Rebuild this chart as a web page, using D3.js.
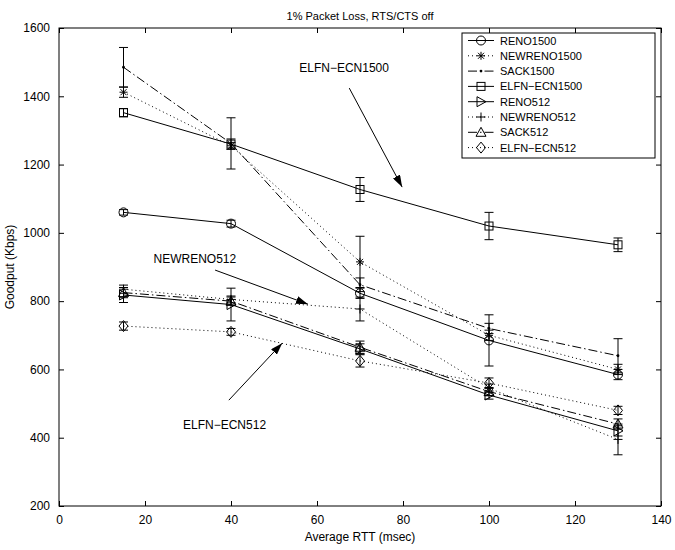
<!DOCTYPE html>
<html><head><meta charset="utf-8">
<script src="https://cdn.jsdelivr.net/npm/d3@7/dist/d3.min.js"></script>
<style>body{margin:0;background:#fff}svg{display:block}text{font-family:"Liberation Sans",Arial,Helvetica,sans-serif}</style>
</head><body><div id="chart"></div>
<script>
const xValues = [15, 40, 70, 100, 130];
const seriesNames = ["RENO1500","NEWRENO1500","SACK1500","ELFN\u2212ECN1500","RENO512","NEWRENO512","SACK512","ELFN\u2212ECN512"];
const reno1500 = [1060, 1027, 823, 685, 585];
const reno1500Err = [8, 10, 15, 75, 15];
const newreno1500 = [1412, 1255, 915, 700, 600];
const newreno1500Err = [15, 10, 75, 15, 15];
const sack1500 = [1485, 1262, 848, 720, 640];
const sack1500Err = [58, 75, 20, 15, 50];
const elfn1500 = [1352, 1260, 1127, 1020, 965];
const elfn1500Err = [12, 15, 35, 40, 20];
const reno512 = [818, 790, 660, 525, 420];
const reno512Err = [22, 48, 15, 12, 15];
const newreno512 = [835, 805, 777, 545, 395];
const newreno512Err = [12, 10, 35, 12, 45];
const sack512 = [825, 800, 665, 535, 440];
const sack512Err = [15, 12, 18, 12, 15];
const elfn512 = [727, 710, 625, 560, 480];
const elfn512Err = [12, 10, 18, 15, 12];
const xTicks = [0, 20, 40, 60, 80, 100, 120, 140];
const yTicks = [200, 400, 600, 800, 1000, 1200, 1400, 1600];
const titleText = "1% Packet Loss, RTS/CTS off";
const xLabel = "Average RTT (msec)";
const yLabel = "Goodput (Kbps)";
// annotations in data coordinates: text position, arrow start, arrow head
const annoText = ["ELFN\u2212ECN1500", "NEWRENO512", "ELFN\u2212ECN512"];
const annoTextPos = [[66.3, 1471], [31.6, 911], [38.5, 425]];
const annoFrom = [[67.5, 1424], [36.3, 891], [39.5, 510]];
const annoTo = [[79.8, 1134], [57.9, 791], [51.9, 677]];

const values = [reno1500, newreno1500, sack1500, elfn1500, reno512, newreno512, sack512, elfn512];
const errors = [reno1500Err, newreno1500Err, sack1500Err, elfn1500Err, reno512Err, newreno512Err, sack512Err, elfn512Err];
const dashes = [null, "1,3", "9,3,1.5,3", null, null, "1,3", "9,3,1.5,3", "1,3"];
const markers = ["circle", "star", "point", "square", "tright", "plus", "tup", "diamond"];

const W = 675, H = 550;
const m = {l: 59, r: 14, t: 28, b: 44};
const svg = d3.select("#chart").append("svg").attr("width", W).attr("height", H);
const x = d3.scaleLinear().domain([0, 140]).range([m.l, W - m.r]);
const y = d3.scaleLinear().domain([200, 1600]).range([H - m.b, m.t]);

svg.append("defs").append("marker").attr("id", "ah").attr("viewBox", "0 0 12 8")
  .attr("refX", 12).attr("refY", 4).attr("markerWidth", 12).attr("markerHeight", 8)
  .attr("markerUnits", "userSpaceOnUse").attr("orient", "auto")
  .append("path").attr("d", "M0,0 L12,4 L0,8 Z").attr("fill", "#000");

// axes with inward ticks on all sides
const tickLen = 5;
const fmt = d3.format("d");
const ax = (g) => g.selectAll(".domain").remove();
svg.append("g").attr("transform", `translate(0,${H - m.b})`)
  .call(d3.axisBottom(x).tickValues(xTicks).tickFormat(fmt).tickSizeInner(-tickLen).tickSizeOuter(0).tickPadding(9))
  .call(ax).call(g => g.selectAll("text").attr("font-size", 12).attr("fill", "#000"));
svg.append("g").attr("transform", `translate(0,${m.t})`)
  .call(d3.axisTop(x).tickValues(xTicks).tickFormat("").tickSizeInner(-tickLen).tickSizeOuter(0)).call(ax);
svg.append("g").attr("transform", `translate(${m.l},0)`)
  .call(d3.axisLeft(y).tickValues(yTicks).tickFormat(fmt).tickSizeInner(-tickLen).tickSizeOuter(0).tickPadding(9))
  .call(ax).call(g => g.selectAll("text").attr("font-size", 12).attr("fill", "#000"));
svg.append("g").attr("transform", `translate(${W - m.r},0)`)
  .call(d3.axisRight(y).tickValues(yTicks).tickFormat("").tickSizeInner(-tickLen).tickSizeOuter(0)).call(ax);
svg.selectAll(".tick line").attr("stroke", "#000");
svg.append("rect").attr("x", m.l).attr("y", m.t).attr("width", W - m.l - m.r).attr("height", H - m.t - m.b)
  .attr("fill", "none").attr("stroke", "#000").attr("stroke-width", 1);

svg.append("text").attr("x", (m.l + W - m.r) / 2).attr("y", 20).attr("text-anchor", "middle").attr("font-size", 11).text(titleText);
svg.append("text").attr("x", (m.l + W - m.r) / 2).attr("y", 541).attr("text-anchor", "middle").attr("font-size", 12).text(xLabel);
svg.append("text").attr("transform", `translate(14,${(m.t + H - m.b) / 2}) rotate(-90)`).attr("text-anchor", "middle").attr("font-size", 12).text(yLabel);

function drawMarker(g, type, cx, cy) {
  const s = 4.5;
  const st = {stroke: "#000", fill: "none", "stroke-width": 1};
  const ap = (sel) => { for (const k in st) sel.attr(k, st[k]); return sel; };
  if (type === "circle") ap(g.append("circle").attr("cx", cx).attr("cy", cy).attr("r", s));
  else if (type === "square") ap(g.append("rect").attr("x", cx - 4).attr("y", cy - 4).attr("width", 8).attr("height", 8));
  else if (type === "diamond") ap(g.append("path").attr("d", `M${cx},${cy - 5.5}L${cx + 4.5},${cy}L${cx},${cy + 5.5}L${cx - 4.5},${cy}Z`));
  else if (type === "tright") ap(g.append("path").attr("d", `M${cx + 5},${cy}L${cx - 4},${cy - 5}L${cx - 4},${cy + 5}Z`));
  else if (type === "tup") ap(g.append("path").attr("d", `M${cx},${cy - 5}L${cx + 5},${cy + 4}L${cx - 5},${cy + 4}Z`));
  else if (type === "plus") ap(g.append("path").attr("d", `M${cx - 4.5},${cy}H${cx + 4.5}M${cx},${cy - 4.5}V${cy + 4.5}`));
  else if (type === "star") ap(g.append("path").attr("d", `M${cx - 4},${cy}H${cx + 4}M${cx},${cy - 4}V${cy + 4}M${cx - 3},${cy - 3}L${cx + 3},${cy + 3}M${cx - 3},${cy + 3}L${cx + 3},${cy - 3}`));
  else if (type === "point") g.append("circle").attr("cx", cx).attr("cy", cy).attr("r", 1.4).attr("fill", "#000");
}

const line = d3.line().x((d, i) => x(xValues[i])).y(d => y(d));
values.forEach((vals, si) => {
  const g = svg.append("g");
  vals.forEach((v, i) => {
    const e = errors[si][i];
    const cx = x(xValues[i]);
    const y1 = y(v - e), y2 = y(v + e);
    g.append("path").attr("d", `M${cx},${y1}V${y2}M${cx - 4.5},${y1}H${cx + 4.5}M${cx - 4.5},${y2}H${cx + 4.5}`)
      .attr("stroke", "#000").attr("fill", "none").attr("stroke-width", 1);
  });
  g.append("path").attr("d", line(vals)).attr("fill", "none").attr("stroke", "#000").attr("stroke-width", 1)
    .attr("stroke-dasharray", dashes[si]);
  vals.forEach((v, i) => drawMarker(g, markers[si], x(xValues[i]), y(v)));
});

annoText.forEach((t, i) => {
  svg.append("text").attr("x", x(annoTextPos[i][0])).attr("y", y(annoTextPos[i][1])).attr("text-anchor", "middle")
    .attr("font-size", 12).text(t);
  svg.append("line").attr("x1", x(annoFrom[i][0])).attr("y1", y(annoFrom[i][1]))
    .attr("x2", x(annoTo[i][0])).attr("y2", y(annoTo[i][1])).attr("stroke", "#000").attr("stroke-width", 1)
    .attr("marker-end", "url(#ah)");
});

const lg = svg.append("g");
const lx = 462, ly = 33, lw = 193, lh = 125;
lg.append("rect").attr("x", lx).attr("y", ly).attr("width", lw).attr("height", lh).attr("fill", "#fff").attr("stroke", "#000");
seriesNames.forEach((n, i) => {
  const cy = 40.5 + i * 15.3;
  lg.append("line").attr("x1", 468).attr("x2", 494).attr("y1", cy).attr("y2", cy).attr("stroke", "#000")
    .attr("stroke-dasharray", dashes[i]);
  drawMarker(lg, markers[i], 481, cy);
  lg.append("text").attr("x", 500).attr("y", cy + 4).attr("font-size", 11).text(n);
});
</script></body></html>
